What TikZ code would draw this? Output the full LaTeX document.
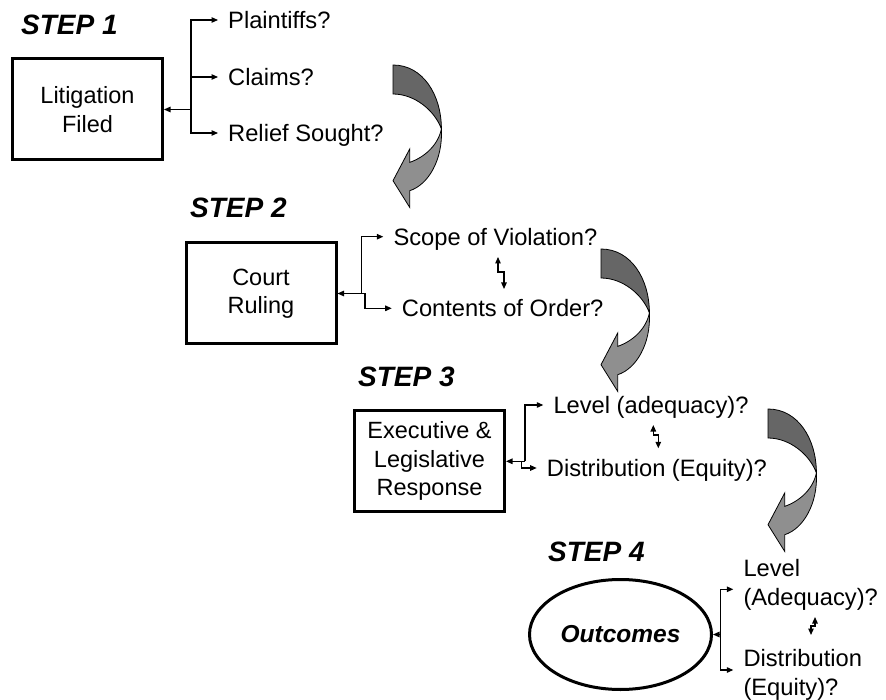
\documentclass[tikz,border=0pt]{standalone}
\usepackage{fontspec}
\setmainfont{Liberation Sans}
\usetikzlibrary{shapes,arrows,arrows.meta,positioning}
\definecolor{bandback}{gray}{0.4}
\definecolor{bandfront}{gray}{0.56}
\tikzstyle{stage}=[rectangle,draw=black,line width=3pt,minimum width=150pt,
minimum height=101pt,align=center,font=\fontsize{23.5}{28.5}\selectfont]
\tikzstyle{outcome}=[ellipse,draw=black,line width=3pt,minimum width=182pt,
minimum height=110pt,inner sep=0pt,font=\fontsize{24.5}{28}\selectfont\bfseries\itshape]
\tikzstyle{question}=[anchor=west,inner xsep=10pt,inner ysep=0pt,align=left,
font=\fontsize{23.7}{28.5}\selectfont]
\tikzstyle{oneline}=[text height=17pt,text depth=0pt]
\tikzstyle{heading}=[anchor=base west,inner sep=0pt,font=\fontsize{28}{32}\selectfont\bfseries\itshape]
\tikzstyle{link}=[line width=1.2pt]
\newcommand{\turnarrow}[1]{%
  \begin{scope}[shift={#1},line width=0.8pt]
    \filldraw[fill=bandback,draw=black] (0,0) .. controls (30,0) and (48.4,30) .. (48.4,64)
      .. controls (42,46) and (22,29) .. (0,29) -- cycle;
    \filldraw[fill=bandfront,draw=black] (48.4,64) .. controls (50,95) and (35,120) .. (16.7,125.7)
      -- (16.7,142.4) -- (0,115.7) -- (16.7,84) -- (16.7,97.4)
      .. controls (32,92) and (45,80) .. (48.4,64) -- cycle;
  \end{scope}}

\begin{document}
\begin{tikzpicture}[>={Triangle[length=6.5pt,width=5.5pt]},x=1pt,y=-1pt]
    \useasboundingbox (0,0) rectangle (886,700);

    \node[heading] (step_1) at (21,35) {STEP 1};
    \node[stage] (litigation) at (87.5,109.5) {Litigation\\Filed};
    \node[question,oneline] (plaintiffs) at (218,20) {Plaintiffs?};
    \node[question,oneline] (claims) at (218,77) {Claims?};
    \node[question,oneline] (relief) at (218,133) {Relief Sought?};
    \coordinate (j_1) at (191,109.5);

    \node[heading] (step_2) at (190,218) {STEP 2};
    \node[stage] (court) at (261,293.5) {Court\\Ruling};
    \node[question,oneline] (scope) at (383.3,236.7) {Scope of Violation?};
    \node[question,oneline] (contents) at (391.7,308.3) {Contents of Order?};
    \coordinate (j_2) at (361.7,293.5);
    \coordinate (zz_2_top) at (498,257);
    \coordinate (zz_2_bot) at (504,289);

    \node[heading] (step_3) at (358,387) {STEP 3};
    \node[stage] (response) at (429.5,461.3) {Executive \&\\Legislative\\Response};
    \node[question,oneline] (level_3) at (543.3,405) {Level (adequacy)?};
    \node[question,oneline] (distr_3) at (536.7,468) {Distribution (Equity)?};
    \coordinate (j_3) at (525,461.3);
    \coordinate (zz_3_top) at (653.3,425);
    \coordinate (zz_3_bot) at (658.3,448.3);

    \node[heading] (step_4) at (548,561.7) {STEP 4};
    \node[outcome] (outcomes) at (620.5,634.5) {Outcomes};
    \node[question] (level_4) at (733.3,585) {Level\\(Adequacy)?};
    \node[question] (distr_4) at (733.3,674.8) {Distribution\\(Equity)?};
    \coordinate (j_4) at (720.7,634.5);
    \coordinate (zz_4_top) at (815,617);
    \coordinate (zz_4_bot) at (811,635);

    \draw[link,->] (j_1) -- (litigation);
    \draw[link,->] (j_1) |- (plaintiffs.west);
    \draw[link,->] (j_1 |- claims.west) -- (claims.west);
    \draw[link,->] (j_1) |- (relief.west);

    \draw[link,->] (j_2) -- (court);
    \draw[link,->] (j_2) |- (scope.west);
    \draw[link,->] (j_2) -- ++(3.3,0) |- (contents.west);
    \draw[link,<->] (zz_2_top) -- ++(0,15) -| (zz_2_bot);

    \draw[link,->] (j_3) -- (response);
    \draw[link,->] (j_3) |- (level_3.west);
    \draw[link,->] (j_3) -- ++(-3.3,0) |- (distr_3.west);
    \draw[link,<->] (zz_3_top) -- ++(0,10) -| (zz_3_bot);

    \draw[link,->] (j_4) -- (outcomes);
    \draw[link,->] (j_4) |- ([yshift=-4.3pt]level_4.west);
    \draw[link,->] (j_4) |- ([yshift=4.8pt]distr_4.west);
    \draw[link,<->] (zz_4_top) -- ++(0,9) -| (zz_4_bot);

    \turnarrow{(393,65)}
    \turnarrow{(601,249)}
    \turnarrow{(768,409)}
  \end{tikzpicture}
\end{document}
